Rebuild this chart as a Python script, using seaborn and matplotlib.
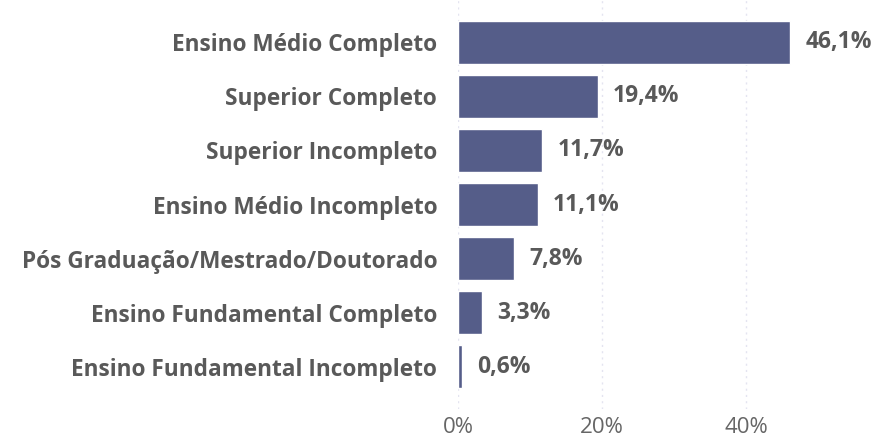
import matplotlib
matplotlib.use("Agg")
import matplotlib.pyplot as plt
from matplotlib import font_manager as fm
import seaborn as sns
import pandas as pd

categories = [
    "Ensino Médio Completo",
    "Superior Completo",
    "Superior Incompleto",
    "Ensino Médio Incompleto",
    "Pós Graduação/Mestrado/Doutorado",
    "Ensino Fundamental Completo",
    "Ensino Fundamental Incompleto",
]
values = [46.1, 19.4, 11.7, 11.1, 7.8, 3.3, 0.6]
tick_values = [0, 20, 40]
tick_labels = ["0%", "20%", "40%"]

df = pd.DataFrame({"cat": categories, "val": values})


def find_font(name, bold):
    cands = []
    for f in fm.fontManager.ttflist:
        if f.name != name:
            continue
        fn = f.fname.lower()
        if "condensed" in fn or "italic" in fn or f.style != "normal":
            continue
        w = f.weight if isinstance(f.weight, int) else {"bold": 700, "normal": 400, "regular": 400}.get(str(f.weight).lower(), 400)
        target = 700 if bold else 400
        cands.append((abs(w - target), len(fn), f.fname))
    if not cands:
        return None
    cands.sort()
    return cands[0][2]


bold_file = find_font("Open Sans", True)
reg_file = find_font("Open Sans", False)

sns.set_theme(style="white")
plt.rcParams["font.family"] = ["Open Sans", "DejaVu Sans"]


def fp(bold, size):
    f = bold_file if bold else reg_file
    if f:
        return fm.FontProperties(fname=f, size=size)
    return fm.FontProperties(family="DejaVu Sans", weight="bold" if bold else "normal", size=size)


fig = plt.figure(figsize=(8.78, 4.45), dpi=100)
ax = fig.add_axes([458 / 878, 1 - 409 / 445, 1 - 458 / 878, 409 / 445])

sns.barplot(data=df, x="val", y="cat", orient="h", color="#555d89",
            saturation=1, width=0.8, ax=ax)

ax.set_xlim(0, 58.3)
ax.set_ylim(6.78, -0.78)
ax.set_xticks(tick_values)
ax.set_xticklabels(tick_labels, color="#666666", fontproperties=fp(False, 16))
ax.tick_params(axis="x", length=0, pad=6)
ax.tick_params(axis="y", length=0, pad=15)
ax.set_yticks(range(len(categories)))
ax.set_yticklabels(categories, color="#595959", fontproperties=fp(True, 16.3))
ax.set_xlabel("")
ax.set_ylabel("")
for s in ax.spines.values():
    s.set_visible(False)
ax.grid(axis="x", color="#e4e4f0", linestyle=(0, (1.5, 3)), linewidth=1)
ax.set_axisbelow(True)

for i, v in enumerate(values):
    ax.text(v + 2.1, i, f"{v:.1f}%".replace(".", ","), va="center", ha="left",
            fontproperties=fp(True, 16.5), color="#595959")

fig.savefig("out.png", dpi=100)
